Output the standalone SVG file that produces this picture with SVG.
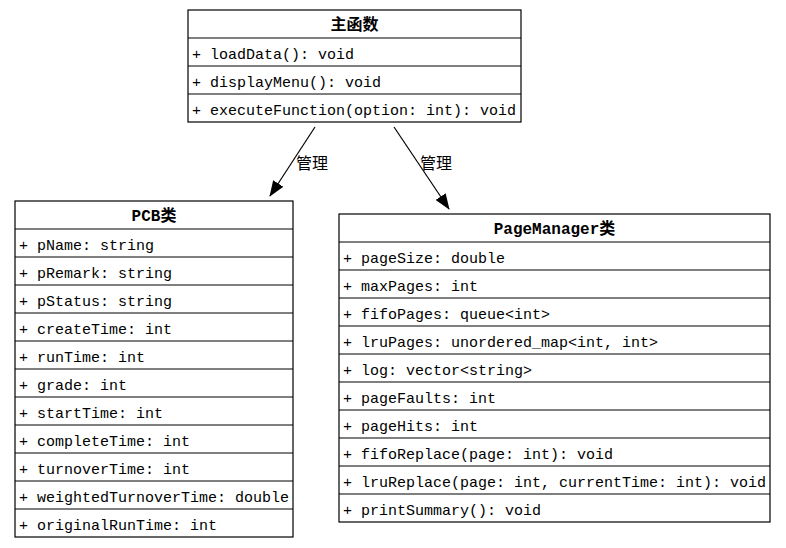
<svg xmlns="http://www.w3.org/2000/svg" width="786" height="548" viewBox="0 0 786 548">
<style>
.box{fill:#fff;stroke:#000;stroke-width:1.2}
.sep{stroke:#000;stroke-width:1.2}
.t{font-family:"Liberation Mono","Noto Sans CJK SC",monospace;font-size:15px;fill:#000}
.h{font-family:"Liberation Mono","Noto Sans CJK SC",monospace;font-size:16px;font-weight:bold;fill:#000;text-anchor:middle}
.lbl{font-family:"Noto Sans CJK SC",sans-serif;font-size:16px;fill:#000}
.edge{stroke:#000;stroke-width:1.2;fill:none}
</style>
<defs>
<marker id="arr" markerWidth="16" markerHeight="12" refX="15" refY="6" orient="auto" markerUnits="userSpaceOnUse">
<path d="M0,0 L16,6 L0,12 Z" fill="#000"/>
</marker>
</defs>
<rect width="786" height="548" fill="#fff"/>
<g id="connectors">
<line class="edge" x1="315" y1="127" x2="270" y2="196" marker-end="url(#arr)"/>
<line class="edge" x1="394" y1="127" x2="449" y2="209" marker-end="url(#arr)"/>
<text class="lbl" x="296" y="169">管理</text>
<text class="lbl" x="420" y="169">管理</text>
</g>
<g id="main">
<rect class="box" x="188" y="10" width="333" height="112"/>
<line class="sep" x1="188" y1="38" x2="521" y2="38"/>
<line class="sep" x1="188" y1="66" x2="521" y2="66"/>
<line class="sep" x1="188" y1="94" x2="521" y2="94"/>
<text class="h" x="354.5" y="30">主函数</text>
<text class="t" x="192" y="59">+ loadData(): void</text>
<text class="t" x="192" y="87">+ displayMenu(): void</text>
<text class="t" x="192" y="115">+ executeFunction(option: int): void</text>
</g>
<g id="pcb">
<rect class="box" x="15" y="201" width="278" height="336"/>
<line class="sep" x1="15" y1="229" x2="293" y2="229"/>
<line class="sep" x1="15" y1="257" x2="293" y2="257"/>
<line class="sep" x1="15" y1="285" x2="293" y2="285"/>
<line class="sep" x1="15" y1="313" x2="293" y2="313"/>
<line class="sep" x1="15" y1="341" x2="293" y2="341"/>
<line class="sep" x1="15" y1="369" x2="293" y2="369"/>
<line class="sep" x1="15" y1="397" x2="293" y2="397"/>
<line class="sep" x1="15" y1="425" x2="293" y2="425"/>
<line class="sep" x1="15" y1="453" x2="293" y2="453"/>
<line class="sep" x1="15" y1="481" x2="293" y2="481"/>
<line class="sep" x1="15" y1="509" x2="293" y2="509"/>
<text class="h" x="154" y="221">PCB类</text>
<text class="t" x="19" y="250">+ pName: string</text>
<text class="t" x="19" y="278">+ pRemark: string</text>
<text class="t" x="19" y="306">+ pStatus: string</text>
<text class="t" x="19" y="334">+ createTime: int</text>
<text class="t" x="19" y="362">+ runTime: int</text>
<text class="t" x="19" y="390">+ grade: int</text>
<text class="t" x="19" y="418">+ startTime: int</text>
<text class="t" x="19" y="446">+ completeTime: int</text>
<text class="t" x="19" y="474">+ turnoverTime: int</text>
<text class="t" x="19" y="502">+ weightedTurnoverTime: double</text>
<text class="t" x="19" y="530">+ originalRunTime: int</text>
</g>
<g id="pagemanager">
<rect class="box" x="339" y="214" width="431" height="308"/>
<line class="sep" x1="339" y1="242" x2="770" y2="242"/>
<line class="sep" x1="339" y1="270" x2="770" y2="270"/>
<line class="sep" x1="339" y1="298" x2="770" y2="298"/>
<line class="sep" x1="339" y1="326" x2="770" y2="326"/>
<line class="sep" x1="339" y1="354" x2="770" y2="354"/>
<line class="sep" x1="339" y1="382" x2="770" y2="382"/>
<line class="sep" x1="339" y1="410" x2="770" y2="410"/>
<line class="sep" x1="339" y1="438" x2="770" y2="438"/>
<line class="sep" x1="339" y1="466" x2="770" y2="466"/>
<line class="sep" x1="339" y1="494" x2="770" y2="494"/>
<text class="h" x="554.5" y="234">PageManager类</text>
<text class="t" x="343" y="263">+ pageSize: double</text>
<text class="t" x="343" y="291">+ maxPages: int</text>
<text class="t" x="343" y="319">+ fifoPages: queue&lt;int&gt;</text>
<text class="t" x="343" y="347">+ lruPages: unordered_map&lt;int, int&gt;</text>
<text class="t" x="343" y="375">+ log: vector&lt;string&gt;</text>
<text class="t" x="343" y="403">+ pageFaults: int</text>
<text class="t" x="343" y="431">+ pageHits: int</text>
<text class="t" x="343" y="459">+ fifoReplace(page: int): void</text>
<text class="t" x="343" y="487">+ lruReplace(page: int, currentTime: int): void</text>
<text class="t" x="343" y="515">+ printSummary(): void</text>
</g>
</svg>
